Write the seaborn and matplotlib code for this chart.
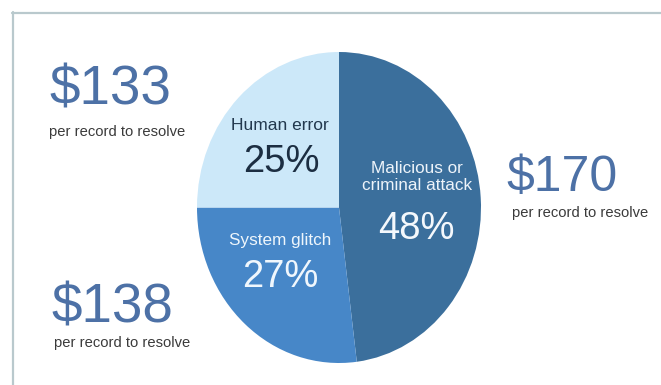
import matplotlib
matplotlib.use("Agg")
import matplotlib.pyplot as plt
import seaborn as sns
from matplotlib.lines import Line2D

sns.set_theme(style="white")
plt.rcParams['font.family'] = ['Liberation Sans', 'DejaVu Sans']

# Data
categories = ["Malicious or\ncriminal attack", "System glitch", "Human error"]
shares = [48, 27, 25]
costs = ["$170", "$138", "$133"]
cost_note = "per record to resolve"
colors = ["#3b6f9c", "#4787c8", "#cce8f9"]
label_colors = ["#eef4fa", "#eef6fc", "#22384e"]
pct_colors = ["#f4f8fc", "#f0f7fd", "#1c2e42"]

W, H = 661, 385
fig = plt.figure(figsize=(W / 100, H / 100), dpi=100)
fig.patch.set_facecolor("white")

def fx(x):
    return x / W

def fy(y):
    return 1 - y / H

# frame lines (top and left)
fig.add_artist(Line2D([fx(12), 1], [fy(12.5), fy(12.5)], color="#b9c9cd", lw=1.6))
fig.add_artist(Line2D([fx(12.5), fx(12.5)], [fy(12), 0], color="#b9c9cd", lw=1.6))

# Pie axes covering the ellipse bounding box
left, top, right, bottom = 197, 52, 481, 363
ax = fig.add_axes([fx(left), fy(bottom), (right - left) / W, (bottom - top) / H])
ax.pie(shares, colors=colors, startangle=90, counterclock=False,
       wedgeprops=dict(linewidth=0, antialiased=True), radius=1)
ax.set_aspect("auto")
ax.set_xlim(-1, 1)
ax.set_ylim(-1, 1)
ax.axis("off")

# in-pie labels (pixel positions)
lab_pos = [(417, 177), (280, 240), (280, 125)]
pct_pos = [(416, 229), (280, 277), (281, 162)]
lab_sizes = [12.3, 12.3, 12.5]
for cat, s, lp, pp, lc, pc, ls in zip(categories, shares, lab_pos, pct_pos,
                                      label_colors, pct_colors, lab_sizes):
    fig.text(fx(lp[0]), fy(lp[1]), cat, ha="center", va="center", fontsize=ls,
             color=lc, linespacing=1.2)
    fig.text(fx(pp[0]), fy(pp[1]), f"{s}%", ha="center", va="center", fontsize=27.5,
             color=pc)

# cost annotations
cost_pos = [(562, 178, 36), (112, 308, 39.5), (110, 90, 39.5)]
note_pos = [(580, 213), (122, 343), (117, 132)]
for c, (x, y, fs), (nx, ny) in zip(costs, cost_pos, note_pos):
    fig.text(fx(x), fy(y), c, ha="center", va="center", fontsize=fs, color="#4d71a6")
    fig.text(fx(nx), fy(ny), cost_note, ha="center", va="center", fontsize=10.6,
             color="#3a3a3a")

fig.savefig("out.png", dpi=100, facecolor="white")
